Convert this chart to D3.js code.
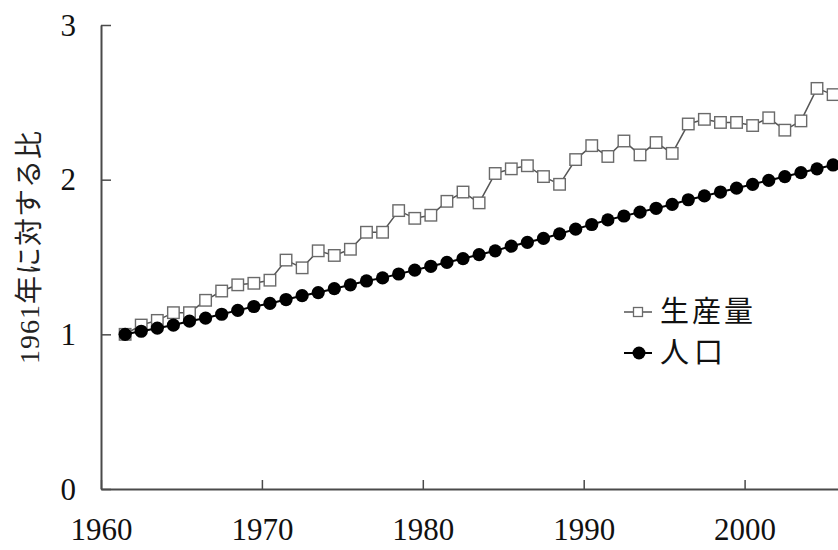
<!DOCTYPE html>
<html>
<head>
<meta charset="utf-8">
<script src="https://cdn.jsdelivr.net/npm/d3@7"></script>
<style>
  html, body { margin: 0; padding: 0; background: #fff; }
  svg { display: block; }
</style>
</head>
<body>
<svg id="chart" width="838" height="550"></svg>
<script>
// ---- data ----
const years = d3.range(1961, 2006);
const production = [
  1.00, 1.06, 1.09, 1.14, 1.14, 1.22, 1.28, 1.32, 1.33, 1.35,
  1.48, 1.43, 1.54, 1.51, 1.55, 1.66, 1.66, 1.80, 1.75, 1.77,
  1.86, 1.92, 1.85, 2.04, 2.07, 2.09, 2.02, 1.97, 2.13, 2.22,
  2.15, 2.25, 2.16, 2.24, 2.17, 2.36, 2.39, 2.37, 2.37, 2.35,
  2.40, 2.32, 2.38, 2.59, 2.55
];
const population = [
  1.00, 1.02, 1.04, 1.06, 1.085, 1.105, 1.13, 1.155, 1.18, 1.20,
  1.225, 1.25, 1.27, 1.295, 1.32, 1.345, 1.365, 1.39, 1.415, 1.44,
  1.465, 1.49, 1.515, 1.54, 1.57, 1.595, 1.62, 1.65, 1.68, 1.71,
  1.74, 1.765, 1.79, 1.815, 1.84, 1.87, 1.895, 1.92, 1.945, 1.97,
  1.995, 2.02, 2.045, 2.07, 2.095
];
const xTickValues = [1960, 1970, 1980, 1990, 2000];
const yTickValues = [0, 1, 2, 3];
const seriesNames = ["生産量", "人口"];
const yTitle = "1961年に対する比";

// ---- layout ----
const svg = d3.select("#chart");
const x0 = 101, yBottom = 489, yTop = 25;
const perYear = 16.09;
const x = d3.scaleLinear().domain([1960, 2010]).range([x0, x0 + 50 * perYear]);
const y = d3.scaleLinear().domain([0, 3]).range([yBottom, yTop]);
// points sit in the middle of each year's slot
const px = yr => x(yr + 0.5);

const axisColor = "#4a4a4a";
const numFont = "'Liberation Serif', 'Noto Sans CJK JP', serif";

// x axis
const gx = svg.append("g").attr("transform", `translate(0,${yBottom})`)
  .call(d3.axisBottom(x).tickValues(xTickValues).tickFormat(d3.format("d"))
        .tickSizeInner(-9).tickSizeOuter(0).tickPadding(0));
gx.select(".domain").attr("stroke", axisColor).attr("stroke-width", 2);
gx.selectAll(".tick line").attr("stroke", axisColor).attr("stroke-width", 1.5);
gx.selectAll(".tick text").attr("fill", "#111").attr("font-family", numFont)
  .attr("font-size", 31).attr("y", 0).attr("dy", "1.63em");

// y axis
const gy = svg.append("g").attr("transform", `translate(${x0},0)`)
  .call(d3.axisLeft(y).tickValues(yTickValues).tickFormat(d3.format("d"))
        .tickSizeInner(-10).tickSizeOuter(0).tickPadding(0));
gy.select(".domain").attr("stroke", axisColor).attr("stroke-width", 2);
gy.selectAll(".tick line").attr("stroke", axisColor).attr("stroke-width", 1.5);
gy.selectAll(".tick text").attr("fill", "#111").attr("font-family", numFont)
  .attr("font-size", 31).attr("x", -25).attr("dy", "0.33em");

// y title
svg.append("text")
  .attr("transform", `translate(39,247) rotate(-90)`)
  .attr("text-anchor", "middle")
  .attr("font-family", numFont)
  .attr("font-size", 28)
  .attr("letter-spacing", 1)
  .attr("fill", "#222")
  .text(yTitle);

const line = d3.line().x(d => px(d.yr)).y(d => y(d.v));
const prodData = years.map((yr, i) => ({ yr, v: production[i] }));
const popData = years.map((yr, i) => ({ yr, v: population[i] }));

// production series
svg.append("path").datum(prodData).attr("d", line)
  .attr("fill", "none").attr("stroke", "#555").attr("stroke-width", 1.5);
const sq = 11.5;
svg.append("g").selectAll("rect").data(prodData).join("rect")
  .attr("x", d => px(d.yr) - sq / 2).attr("y", d => y(d.v) - sq / 2)
  .attr("width", sq).attr("height", sq)
  .attr("fill", "#fff").attr("stroke", "#6a6a6a").attr("stroke-width", 1.4);

// population series
svg.append("path").datum(popData).attr("d", line)
  .attr("fill", "none").attr("stroke", "#000").attr("stroke-width", 2);
svg.append("g").selectAll("circle").data(popData).join("circle")
  .attr("cx", d => px(d.yr)).attr("cy", d => y(d.v)).attr("r", 6.6)
  .attr("fill", "#000");

// legend
const legend = svg.append("g");
const lx = 624, ly = [312, 353];
seriesNames.forEach((name, i) => {
  const g = legend.append("g").attr("transform", `translate(${lx},${ly[i]})`);
  g.append("line").attr("x1", 0).attr("x2", 28).attr("y1", 0).attr("y2", 0)
    .attr("stroke", i === 0 ? "#555" : "#000").attr("stroke-width", i === 0 ? 1.5 : 2);
  if (i === 0) {
    g.append("rect").attr("x", 14 - 4.5).attr("y", -4.5).attr("width", 9).attr("height", 9)
      .attr("fill", "#fff").attr("stroke", "#6a6a6a").attr("stroke-width", 1.3);
  } else {
    g.append("circle").attr("cx", 15).attr("cy", 0).attr("r", 6.5).attr("fill", "#000");
  }
  g.append("text").attr("x", 36).attr("y", 0).attr("dy", "0.36em")
    .attr("font-family", "'Noto Sans CJK JP', sans-serif")
    .attr("font-size", 29).attr("letter-spacing", i === 0 ? 3 : 5)
    .attr("fill", "#111").text(name);
});
</script>
</body>
</html>
